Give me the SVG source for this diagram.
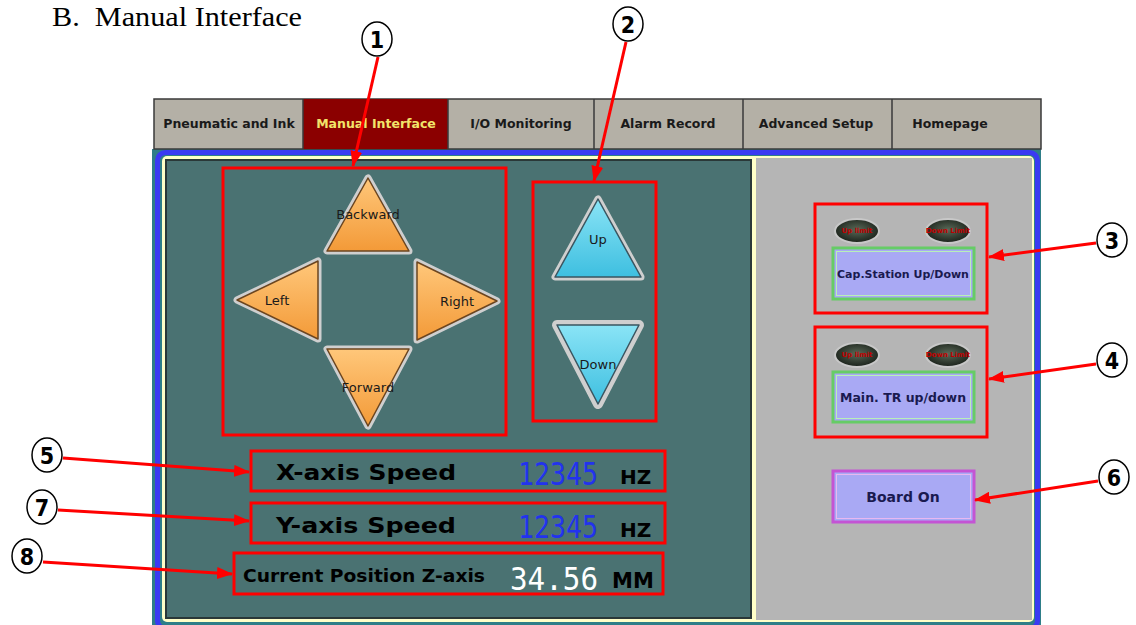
<svg xmlns="http://www.w3.org/2000/svg" width="1136" height="625" viewBox="0 0 1136 625">
<defs>
<linearGradient id="gOr" x1="0" y1="0" x2="0" y2="1"><stop offset="0" stop-color="#FFC77A"/><stop offset="1" stop-color="#F39A38"/></linearGradient>
<linearGradient id="gCy" x1="0" y1="0" x2="0" y2="1"><stop offset="0" stop-color="#8AE4F6"/><stop offset="1" stop-color="#3EBFE0"/></linearGradient>
<radialGradient id="gLamp" cx="0.5" cy="0.45" r="0.6"><stop offset="0" stop-color="#5A6A58"/><stop offset="1" stop-color="#141A14"/></radialGradient>
<marker id="ah" markerUnits="userSpaceOnUse" markerWidth="16" markerHeight="12" refX="15" refY="6" orient="auto"><path d="M0,0 L16,6 L0,12 z" fill="#FF0000"/></marker>
<style>
.tab{font-family:"DejaVu Sans",sans-serif;font-weight:bold;font-size:12.5px;fill:#1A1A1A;text-anchor:middle}
.lbl{font-family:"DejaVu Sans",sans-serif;font-size:13px;fill:#1A1A1A;text-anchor:middle}
.red{fill:none;stroke:#FF0000;stroke-width:3}
.bev{fill:none;stroke:#CFCFCF;stroke-width:7;stroke-linejoin:round}
.or{fill:url(#gOr);stroke:#6B4520;stroke-width:1.5;stroke-linejoin:round}
.cy{fill:url(#gCy);stroke:#3A5560;stroke-width:1.5;stroke-linejoin:round}
.big{font-family:"DejaVu Sans",sans-serif;font-weight:bold;fill:#000}
.seg{font-family:"DejaVu Sans Mono",monospace;font-size:32px}
.btn{font-family:"DejaVu Sans",sans-serif;font-weight:bold;fill:#1A1A50;text-anchor:middle}
.lamp{fill:url(#gLamp);stroke:#C8C8C8;stroke-width:2}
.lt{font-family:"DejaVu Sans",sans-serif;font-weight:bold;font-size:7px;fill:#C00000;text-anchor:middle}
.num{fill:#fff;stroke:#000;stroke-width:1.5}
.nt{font-family:"DejaVu Sans Condensed","DejaVu Sans",sans-serif;font-weight:bold;font-size:23px;fill:#000;text-anchor:middle}
.conn{stroke:#FF0000;stroke-width:3;fill:none;marker-end:url(#ah)}
</style>
</defs>
<rect width="1136" height="625" fill="#fff"/>
<text x="52" y="26" font-family="Liberation Serif,serif" font-size="28" textLength="250" lengthAdjust="spacingAndGlyphs" fill="#000">B.&#160; Manual Interface</text>

<g id="frame">
<rect x="152" y="149" width="889" height="476" fill="#2E7E88"/>
<rect x="157.5" y="152.5" width="880" height="476" rx="8" fill="none" stroke="#3A3AF2" stroke-width="5"/>
<rect x="162" y="156" width="872" height="466" rx="5" fill="#FFFFC8"/>
<rect x="166" y="160" width="585" height="458" fill="#4A7272" stroke="#2A3838" stroke-width="2"/>
<rect x="756" y="158" width="276" height="462" fill="#B5B5B5"/>
</g>

<g id="tabs">
<rect x="154" y="99" width="887" height="50" fill="#B4B0A6" stroke="#3A3A3A" stroke-width="1.5"/>
<rect x="303" y="99" width="145" height="50" fill="#8B0000"/>
<g stroke="#3A3A3A" stroke-width="1.5"><line x1="303" y1="99" x2="303" y2="149"/><line x1="448" y1="99" x2="448" y2="149"/><line x1="594" y1="99" x2="594" y2="149"/><line x1="743" y1="99" x2="743" y2="149"/><line x1="892" y1="99" x2="892" y2="149"/></g>
<text class="tab" x="229" y="128">Pneumatic and Ink</text>
<text class="tab" x="376" y="128" style="fill:#F2E46A">Manual Interface</text>
<text class="tab" x="521" y="128">I/O Monitoring</text>
<text class="tab" x="668" y="128">Alarm Record</text>
<text class="tab" x="816" y="128">Advanced Setup</text>
<text class="tab" x="950" y="128">Homepage</text>
</g>

<g id="node1">
<rect class="red" x="223" y="168" width="283" height="267"/>
<g id="btn-backward"><polygon class="bev" points="368,178 327,251 409,251"/><polygon class="or" points="368,178 327,251 409,251"/><text class="lbl" x="368" y="219">Backward</text></g>
<g id="btn-left"><polygon class="bev" points="237,300 318,261 318,339"/><polygon class="or" points="237,300 318,261 318,339"/><text class="lbl" x="277" y="305">Left</text></g>
<g id="btn-right"><polygon class="bev" points="497,301 417,262 417,340"/><polygon class="or" points="497,301 417,262 417,340"/><text class="lbl" x="457" y="306">Right</text></g>
<g id="btn-forward"><polygon class="bev" points="327,349 409,349 368,426"/><polygon class="or" points="327,349 409,349 368,426"/><text class="lbl" x="368" y="392">Forward</text></g>
</g>

<g id="node2">
<rect class="red" x="533" y="182" width="123" height="239"/>
<g id="btn-up"><polygon class="bev" points="598,199 555,277 641,277"/><polygon class="cy" points="598,199 555,277 641,277"/><text class="lbl" x="598" y="244">Up</text></g>
<g id="btn-down"><polygon class="bev" points="557,325 639,325 598,404" style="stroke-width:10"/><polygon class="cy" points="557,325 639,325 598,404"/><text class="lbl" x="598" y="369">Down</text></g>
</g>

<g id="node3">
<rect class="red" x="815" y="204" width="172" height="109"/>
<ellipse class="lamp" cx="857" cy="231" rx="22" ry="12"/><text class="lt" x="857" y="233">Up limit</text>
<ellipse class="lamp" cx="948" cy="231" rx="22" ry="12"/><text class="lt" x="948" y="233">Down Limit</text>
<rect x="833" y="248" width="141" height="51" fill="#A9A9F4" stroke="#66CC66" stroke-width="3"/>
<rect x="836.5" y="251.5" width="134" height="44" fill="none" stroke="#B8F0B8" stroke-width="1"/>
<text class="btn" x="903" y="278" font-size="11">Cap.Station Up/Down</text>
</g>

<g id="node4">
<rect class="red" x="815" y="327" width="172" height="110"/>
<ellipse class="lamp" cx="857" cy="355" rx="22" ry="12"/><text class="lt" x="857" y="357">Up limit</text>
<ellipse class="lamp" cx="948" cy="355" rx="22" ry="12"/><text class="lt" x="948" y="357">Down Limit</text>
<rect x="833" y="372" width="141" height="50" fill="#A9A9F4" stroke="#66CC66" stroke-width="3"/>
<rect x="836.5" y="375.5" width="134" height="43" fill="none" stroke="#B8F0B8" stroke-width="1"/>
<text class="btn" x="903" y="402" font-size="12.5">Main. TR up/down</text>
</g>

<g id="node6">
<rect x="833" y="471" width="141" height="51" fill="#A9A9F4" stroke="#C454D4" stroke-width="3"/>
<rect x="836.5" y="474.5" width="134" height="44" fill="none" stroke="#E8B8F0" stroke-width="1"/>
<text class="btn" x="903" y="502" font-size="14">Board On</text>
</g>

<g id="node5">
<rect class="red" x="251" y="451" width="414" height="40"/>
<text class="big" x="276" y="480" font-size="22" textLength="180" lengthAdjust="spacingAndGlyphs">X-axis Speed</text>
<text class="seg" x="518" y="485" fill="#2233EE" textLength="80" lengthAdjust="spacingAndGlyphs">12345</text>
<text class="big" x="620" y="484" font-size="20">HZ</text>
</g>

<g id="node7">
<rect class="red" x="251" y="503" width="414" height="40"/>
<text class="big" x="276" y="533" font-size="22" textLength="180" lengthAdjust="spacingAndGlyphs">Y-axis Speed</text>
<text class="seg" x="518" y="538" fill="#2233EE" textLength="80" lengthAdjust="spacingAndGlyphs">12345</text>
<text class="big" x="620" y="537" font-size="20">HZ</text>
</g>

<g id="node8">
<rect class="red" x="234" y="553" width="429" height="41"/>
<text class="big" x="243" y="582" font-size="17" textLength="242" lengthAdjust="spacingAndGlyphs">Current Position Z-axis</text>
<text class="seg" x="510" y="590" fill="#FFFFFF" textLength="88" lengthAdjust="spacingAndGlyphs">34.56</text>
<text class="big" x="612" y="588" font-size="21">MM</text>
</g>

<g id="callouts">
<g id="c1"><ellipse class="num" cx="377" cy="39" rx="15" ry="17"/><text class="nt" x="377" y="48">1</text></g>
<g id="c2"><ellipse class="num" cx="628" cy="24" rx="15" ry="17"/><text class="nt" x="628" y="33">2</text></g>
<g id="c3"><ellipse class="num" cx="1112" cy="240" rx="15" ry="17"/><text class="nt" x="1112" y="249">3</text></g>
<g id="c4"><ellipse class="num" cx="1112" cy="360" rx="15" ry="17"/><text class="nt" x="1112" y="369">4</text></g>
<g id="c6"><ellipse class="num" cx="1114" cy="477" rx="15" ry="17"/><text class="nt" x="1114" y="486">6</text></g>
<g id="c5"><ellipse class="num" cx="47" cy="455" rx="15" ry="17"/><text class="nt" x="47" y="464">5</text></g>
<g id="c7"><ellipse class="num" cx="42" cy="507" rx="15" ry="17"/><text class="nt" x="42" y="516">7</text></g>
<g id="c8"><ellipse class="num" cx="27" cy="556" rx="15" ry="17"/><text class="nt" x="27" y="565">8</text></g>
</g>

<g id="connectors">
<line class="conn" x1="378" y1="57" x2="353" y2="166"/>
<line class="conn" x1="626" y1="42" x2="594" y2="181"/>
<line class="conn" x1="1096" y1="243" x2="989" y2="257"/>
<line class="conn" x1="1096" y1="364" x2="989" y2="379"/>
<line class="conn" x1="1098" y1="481" x2="975" y2="500"/>
<line class="conn" x1="63" y1="458" x2="249" y2="472"/>
<line class="conn" x1="58" y1="510" x2="249" y2="521"/>
<line class="conn" x1="43" y1="562" x2="232" y2="574"/>
</g>
</svg>
